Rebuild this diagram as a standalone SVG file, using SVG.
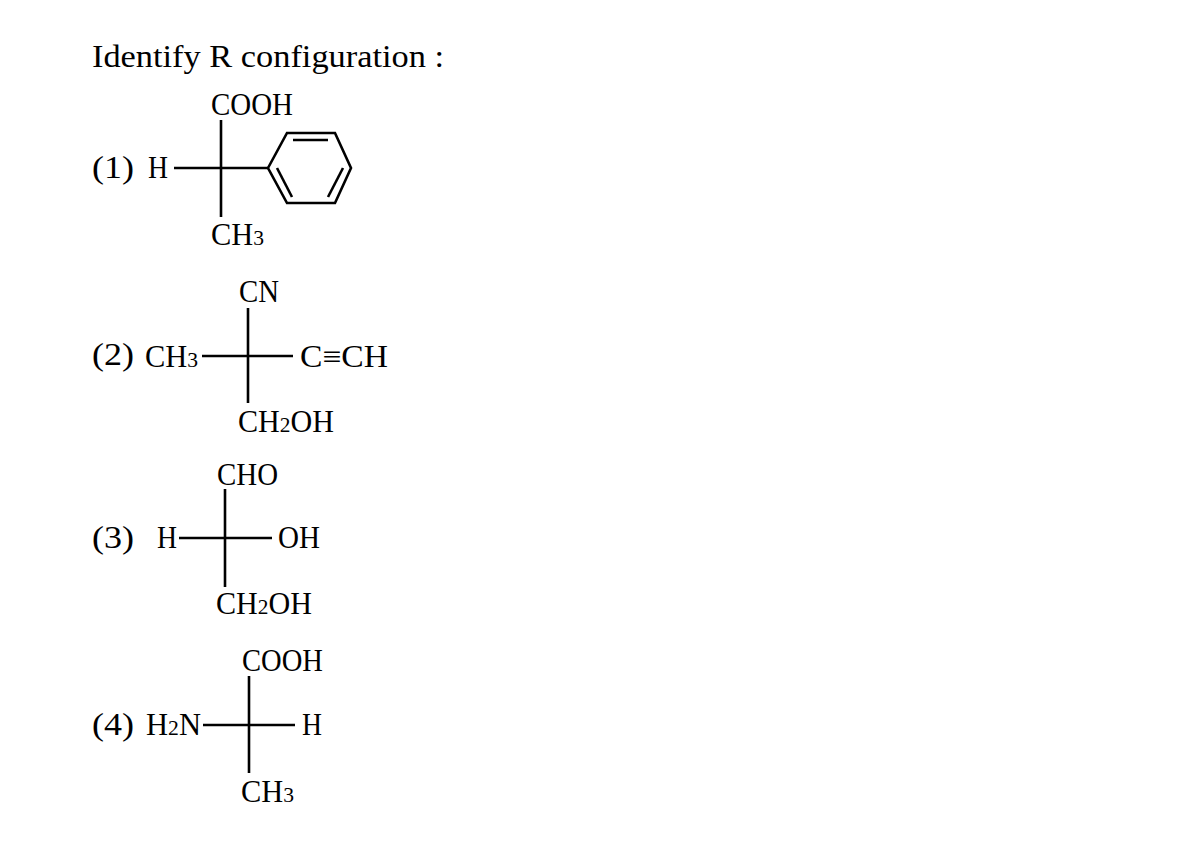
<svg xmlns="http://www.w3.org/2000/svg" width="1197" height="864" viewBox="0 0 1197 864">
<style>
text{font-family:"Liberation Serif","DejaVu Serif",serif;fill:#000;font-size:31px}
.t{font-size:31px}
.s{font-size:22px}
line,polygon{stroke:#000;stroke-width:2.6;fill:none}
</style>
<rect width="1197" height="864" fill="#fff"/>
<text class="t" x="92" y="67" textLength="352" lengthAdjust="spacingAndGlyphs">Identify R configuration :</text>
<g id="m1">
<text x="92" y="178" textLength="42" lengthAdjust="spacingAndGlyphs">(1)</text>
<text x="148" y="178" textLength="20" lengthAdjust="spacingAndGlyphs">H</text>
<text x="211" y="115" textLength="82" lengthAdjust="spacingAndGlyphs">COOH</text>
<text x="211" y="245" textLength="53" lengthAdjust="spacingAndGlyphs">CH<tspan class="s">3</tspan></text>
<line x1="221" y1="120" x2="221" y2="217"/>
<line x1="174" y1="168" x2="268" y2="168"/>
<polygon points="268,168 287,133 335,133 351,168 335,203 287,203"/>
<line x1="293" y1="140" x2="328" y2="140"/>
<line x1="277" y1="168" x2="292" y2="197"/>
<line x1="343" y1="168" x2="328" y2="197"/>
</g>
<g id="m2">
<text x="92" y="365" textLength="42" lengthAdjust="spacingAndGlyphs">(2)</text>
<text x="145" y="367" textLength="53" lengthAdjust="spacingAndGlyphs">CH<tspan class="s">3</tspan></text>
<text x="239" y="302" textLength="40" lengthAdjust="spacingAndGlyphs">CN</text>
<text x="300" y="367" textLength="88" lengthAdjust="spacingAndGlyphs">C≡CH</text>
<text x="238" y="432" textLength="96" lengthAdjust="spacingAndGlyphs">CH<tspan class="s">2</tspan>OH</text>
<line x1="248" y1="308" x2="248" y2="403"/>
<line x1="202" y1="356" x2="293" y2="356"/>
</g>
<g id="m3">
<text x="92" y="548" textLength="42" lengthAdjust="spacingAndGlyphs">(3)</text>
<text x="157" y="548" textLength="20" lengthAdjust="spacingAndGlyphs">H</text>
<text x="217" y="485" textLength="61" lengthAdjust="spacingAndGlyphs">CHO</text>
<text x="278" y="548" textLength="42" lengthAdjust="spacingAndGlyphs">OH</text>
<text x="216" y="614" textLength="96" lengthAdjust="spacingAndGlyphs">CH<tspan class="s">2</tspan>OH</text>
<line x1="225" y1="489" x2="225" y2="587"/>
<line x1="179" y1="538" x2="272" y2="538"/>
</g>
<g id="m4">
<text x="92" y="735" textLength="42" lengthAdjust="spacingAndGlyphs">(4)</text>
<text x="146" y="735" textLength="55" lengthAdjust="spacingAndGlyphs">H<tspan class="s">2</tspan>N</text>
<text x="242" y="671" textLength="81" lengthAdjust="spacingAndGlyphs">COOH</text>
<text x="302" y="735" textLength="20" lengthAdjust="spacingAndGlyphs">H</text>
<text x="241" y="802" textLength="53" lengthAdjust="spacingAndGlyphs">CH<tspan class="s">3</tspan></text>
<line x1="249" y1="676" x2="249" y2="773"/>
<line x1="203" y1="725" x2="295" y2="725"/>
</g>
</svg>
